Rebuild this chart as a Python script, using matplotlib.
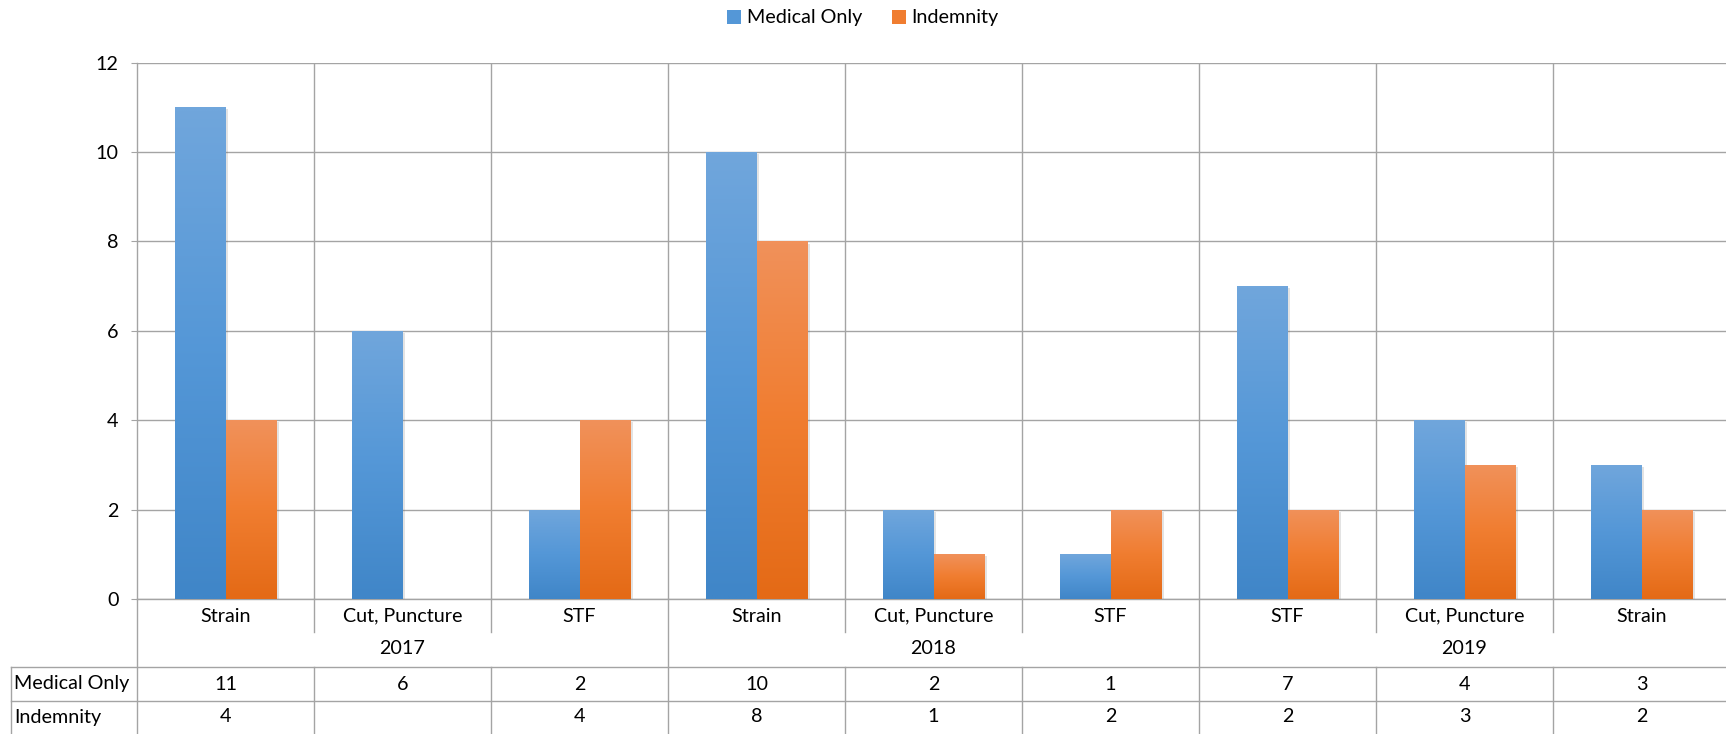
import numpy as np
import matplotlib
matplotlib.use("Agg")
import matplotlib.pyplot as plt
import matplotlib.transforms as mtransforms
from matplotlib.patches import Patch
from matplotlib import patheffects

years = ['2017', '2018', '2019']
categories = ['Strain', 'Cut, Puncture', 'STF', 'Strain', 'Cut, Puncture', 'STF',
              'STF', 'Cut, Puncture', 'Strain']
year_groups = [3, 3, 3]
medical = [11, 6, 2, 10, 2, 1, 7, 4, 3]
indemnity = [4, np.nan, 4, 8, 1, 2, 2, 3, 2]
series_names = ['Medical Only', 'Indemnity']

W, H = 1726, 734
plt.rcParams['font.family'] = ['Lato', 'DejaVu Sans']
FS = 14.2
GRID = '#a4a4a4'

blue_stops = [(112, 166, 220), (84, 151, 215), (64, 134, 200)]
orange_stops = [(241, 145, 90), (240, 125, 48), (228, 106, 22)]


def gradient(stops, n=64):
    stops = np.array(stops) / 255.0
    t = np.linspace(0, 1, n)
    mid = (len(stops) - 1) * t
    out = np.zeros((n, 1, 3))
    for c in range(3):
        out[:, 0, c] = np.interp(mid, np.arange(len(stops)), stops[:, c])
    return out


fig = plt.figure(figsize=(W / 100, H / 100), dpi=100)
px = lambda x: x / W
py = lambda y: 1 - y / H

x_left, x_right = 137, 1730
y_top, y_bot = 62.7, 599
ax = fig.add_axes([px(x_left), py(y_bot), px(x_right - x_left), (y_bot - y_top) / H])

n = len(categories)
x = np.arange(n) + 0.5
bw = 0.288

ax.set_xlim(0, n)
ax.set_ylim(0, 12)
ax.set_yticks(range(0, 13, 2))
ax.set_xticks([])
ax.grid(axis='y', color=GRID, lw=1.0, zorder=0)
ax.vlines(np.arange(1, n), 0, 12, color=GRID, lw=1.0, zorder=0)
for s in ['top', 'right']:
    ax.spines[s].set_visible(False)
for s in ['left', 'bottom']:
    ax.spines[s].set_color(GRID)
    ax.spines[s].set_linewidth(1.0)
ax.tick_params(axis='y', length=4.3, color=GRID, labelsize=FS, pad=9)

shadow = [patheffects.SimplePatchShadow(offset=(1.5, -1.5), alpha=0.18, shadow_rgbFace='#666666'),
          patheffects.Normal()]
for vals, off, stops in [(medical, -bw / 2, blue_stops), (indemnity, bw / 2, orange_stops)]:
    bars = ax.bar(x + off, np.nan_to_num(vals), bw, color=np.array(stops[1]) / 255,
                  zorder=2, path_effects=shadow)
    for b, v in zip(bars, vals):
        if np.isnan(v) or v == 0:
            continue
        im = ax.imshow(gradient(stops), extent=(b.get_x(), b.get_x() + b.get_width(), 0, v),
                       aspect='auto', interpolation='bilinear', zorder=3)
        im.set_clip_path(b)
ax.set_xlim(0, n)
ax.set_ylim(0, 12)

# category axis + data table below the plot
tr = mtransforms.blended_transform_factory(ax.transData, fig.transFigure)
for xi, c in zip(x, categories):
    ax.text(xi, py(616), c, transform=tr, ha='center', va='center', fontsize=FS)

bounds = np.cumsum([0] + year_groups)
for i, yr in enumerate(years):
    ax.text((bounds[i] + bounds[i + 1]) / 2, py(649), yr, transform=tr,
            ha='center', va='center', fontsize=FS)

lk = dict(color=GRID, lw=1.0, clip_on=False, transform=tr)
for b in range(1, n):
    if b in bounds:
        ax.plot([b, b], [py(599), 0], **lk)
    else:
        ax.plot([b, b], [py(599), py(632)], **lk)
        ax.plot([b, b], [py(667), 0], **lk)
ax.plot([0, 0], [py(599), 0], **lk)

trf = mtransforms.blended_transform_factory(fig.transFigure, fig.transFigure)
lf = dict(color=GRID, lw=1.0, clip_on=False, transform=trf)
for yy in [667, 701]:
    ax.plot([px(10.7), 1], [py(yy), py(yy)], **lf)
ax.plot([px(10.7), px(10.7)], [py(667), 0], **lf)

for row_y, name, vals in [(684, series_names[0], medical), (717, series_names[1], indemnity)]:
    ax.text(px(14), py(row_y), name, transform=trf, ha='left', va='center', fontsize=FS)
    for xi, v in zip(x, vals):
        if not np.isnan(v):
            ax.text(xi, py(row_y), str(int(v)), transform=tr, ha='center', va='center', fontsize=FS)

handles = [Patch(facecolor=np.array(blue_stops[1]) / 255, label=series_names[0]),
           Patch(facecolor=np.array(orange_stops[1]) / 255, label=series_names[1])]
fig.legend(handles=handles, loc='center', bbox_to_anchor=(0.5, py(18)), ncol=2,
           frameon=False, fontsize=FS, handlelength=0.7, handleheight=0.7,
           handletextpad=0.3, columnspacing=1.5)

fig.savefig('out.png', dpi=100)
